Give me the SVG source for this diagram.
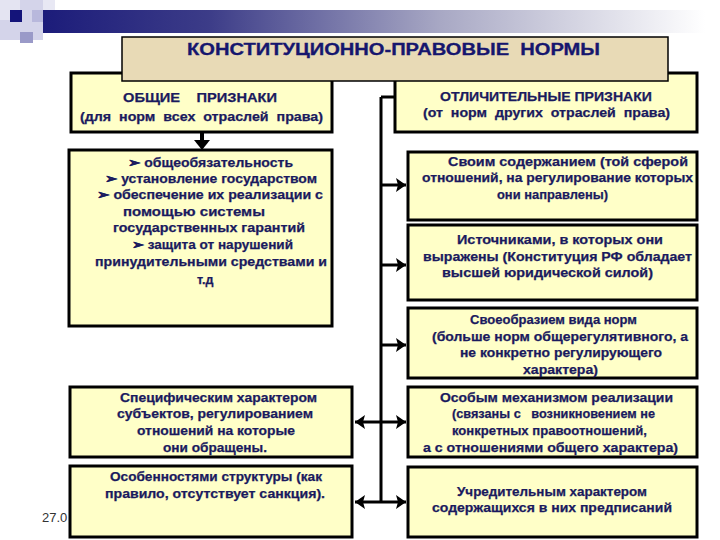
<svg xmlns="http://www.w3.org/2000/svg" width="720" height="540" viewBox="0 0 720 540">
<defs>
<linearGradient id="bar" x1="43" y1="0" x2="705" y2="0" gradientUnits="userSpaceOnUse">
<stop offset="0" stop-color="#1c1c7a"/>
<stop offset="0.25" stop-color="#3c3c88"/>
<stop offset="0.6" stop-color="#a8a8c4"/>
<stop offset="1" stop-color="#ffffff"/>
</linearGradient>
<marker id="ah" markerUnits="userSpaceOnUse" markerWidth="12" markerHeight="14" refX="10" refY="7" orient="auto">
<path d="M0,0 L10,7 L0,14 L2,7 Z" fill="#000"/>
</marker>
<style>
.box{fill:#FFFFC8;stroke:#000;stroke-width:3}
.t{font-family:"Liberation Sans",Arial,sans-serif;font-weight:bold;font-size:12.5px;fill:#1a1a5e;stroke:#1a1a5e;stroke-width:0.25;white-space:pre}
.c{fill:none;stroke:#000;stroke-width:3}
</style>
</defs>

<g id="decor">
<rect x="0" y="0" width="43" height="40" fill="#d4d4ea"/>
<rect x="0" y="0" width="20" height="20" fill="#e4e4f2"/>
<rect x="43" y="0" width="12" height="10" fill="#e8e8f4"/>
<rect x="32" y="10" width="22" height="12" fill="#b8b8dc"/>
<rect x="20" y="32" width="13" height="11" fill="#9a9ac8"/>
<rect x="43" y="10" width="662" height="23" fill="url(#bar)"/>
<rect x="10" y="10" width="12" height="12" fill="#14147a"/>
</g>

<text x="42" y="522" font-family="Liberation Sans,Arial,sans-serif" font-size="13" fill="#333">27.0</text>

<g id="connectors">
<path class="c" d="M381,97 H395 M381,97 V502"/>
<path class="c" d="M381,185 H406" marker-end="url(#ah)"/>
<path class="c" d="M381,265 H406" marker-end="url(#ah)"/>
<path class="c" d="M381,345 H406" marker-end="url(#ah)"/>
<path class="c" d="M381,422 H406" marker-end="url(#ah)"/>
<path class="c" d="M381,502 H406" marker-end="url(#ah)"/>
<path class="c" d="M381,422 H355" marker-end="url(#ah)"/>
<path class="c" d="M381,502 H355" marker-end="url(#ah)"/>
<path d="M202,132 V142" stroke="#000" stroke-width="4"/>
<path d="M194,140 L210,140 L202,150 Z" fill="#000"/>
</g>

<g id="general-header">
<rect class="box" x="71" y="73" width="261" height="59"/>
<text class="t" x="123" y="102" textLength="154" lengthAdjust="spacingAndGlyphs">ОБЩИЕ    ПРИЗНАКИ</text>
<text class="t" x="80" y="121" textLength="243" lengthAdjust="spacingAndGlyphs">(для  норм  всех  отраслей  права)</text>
</g>

<g id="distinct-header">
<rect class="box" x="395" y="73" width="302" height="59"/>
<text class="t" x="440" y="101" textLength="212" lengthAdjust="spacingAndGlyphs">ОТЛИЧИТЕЛЬНЫЕ ПРИЗНАКИ</text>
<text class="t" x="423" y="117" textLength="247" lengthAdjust="spacingAndGlyphs">(от  норм  других  отраслей  права)</text>
</g>

<g id="title">
<rect x="122" y="37" width="546" height="44" fill="#E8DAB6" stroke="#000" stroke-width="1.5"/>
<text x="187" y="55" font-family="Liberation Sans,Arial,sans-serif" font-weight="bold" font-size="16" fill="#16166e" stroke="#16166e" stroke-width="0.3" style="white-space:pre" textLength="413" lengthAdjust="spacingAndGlyphs">КОНСТИТУЦИОННО-ПРАВОВЫЕ  НОРМЫ</text>
</g>

<g id="general-list">
<rect class="box" x="69" y="150" width="263" height="176"/>
<text class="t" x="128" y="167" textLength="165" lengthAdjust="spacingAndGlyphs">➢ общеобязательность</text>
<text class="t" x="105" y="183" textLength="212" lengthAdjust="spacingAndGlyphs">➢ установление государством</text>
<text class="t" x="97" y="199" textLength="226" lengthAdjust="spacingAndGlyphs">➢ обеспечение их реализации с</text>
<text class="t" x="123" y="216" textLength="142" lengthAdjust="spacingAndGlyphs">помощью системы</text>
<text class="t" x="113" y="232" textLength="192" lengthAdjust="spacingAndGlyphs">государственных гарантий</text>
<text class="t" x="132" y="249" textLength="161" lengthAdjust="spacingAndGlyphs">➢ защита от нарушений</text>
<text class="t" x="95" y="266" textLength="232" lengthAdjust="spacingAndGlyphs">принудительными средствами и</text>
<text class="t" x="197" y="284">т.д</text>
</g>

<g id="content">
<rect class="box" x="408" y="152" width="289" height="68"/>
<text class="t" x="448" y="166" textLength="240" lengthAdjust="spacingAndGlyphs">Своим содержанием (той сферой</text>
<text class="t" x="422" y="182" textLength="271" lengthAdjust="spacingAndGlyphs">отношений, на регулирование которых</text>
<text class="t" x="497" y="199" textLength="111" lengthAdjust="spacingAndGlyphs">они направлены)</text>
</g>

<g id="sources">
<rect class="box" x="408" y="225" width="289" height="75"/>
<text class="t" x="457" y="244" textLength="206" lengthAdjust="spacingAndGlyphs">Источниками, в которых они</text>
<text class="t" x="423" y="261" textLength="269" lengthAdjust="spacingAndGlyphs">выражены (Конституция РФ обладает</text>
<text class="t" x="442" y="277" textLength="211" lengthAdjust="spacingAndGlyphs">высшей юридической силой)</text>
</g>

<g id="kind">
<rect class="box" x="408" y="308" width="289" height="70"/>
<text class="t" x="470" y="324" textLength="167" lengthAdjust="spacingAndGlyphs">Своеобразием вида норм</text>
<text class="t" x="432" y="341" textLength="256" lengthAdjust="spacingAndGlyphs">(больше норм общерегулятивного, а</text>
<text class="t" x="460" y="357" textLength="202" lengthAdjust="spacingAndGlyphs">не конкретно регулирующего</text>
<text class="t" x="523" y="374" textLength="75" lengthAdjust="spacingAndGlyphs">характера)</text>
</g>

<g id="mechanism">
<rect class="box" x="408" y="387" width="289" height="70"/>
<text class="t" x="440" y="402" textLength="233" lengthAdjust="spacingAndGlyphs">Особым механизмом реализации</text>
<text class="t" x="452" y="418" textLength="203" lengthAdjust="spacingAndGlyphs">(связаны с   возникновением не</text>
<text class="t" x="452" y="435" textLength="195" lengthAdjust="spacingAndGlyphs">конкретных правоотношений,</text>
<text class="t" x="423" y="452" textLength="255" lengthAdjust="spacingAndGlyphs">а с отношениями общего характера)</text>
</g>

<g id="constituent">
<rect class="box" x="408" y="467" width="289" height="70"/>
<text class="t" x="457" y="496" textLength="190" lengthAdjust="spacingAndGlyphs">Учредительным характером</text>
<text class="t" x="432" y="512" textLength="240" lengthAdjust="spacingAndGlyphs">содержащихся в них предписаний</text>
</g>

<g id="subjects">
<rect class="box" x="70" y="387" width="282" height="70"/>
<text class="t" x="120" y="402" textLength="197" lengthAdjust="spacingAndGlyphs">Специфическим характером</text>
<text class="t" x="117" y="418" textLength="196" lengthAdjust="spacingAndGlyphs">субъектов, регулированием</text>
<text class="t" x="137" y="435" textLength="158" lengthAdjust="spacingAndGlyphs">отношений на которые</text>
<text class="t" x="163" y="452" textLength="104" lengthAdjust="spacingAndGlyphs">они обращены.</text>
</g>

<g id="structure">
<rect class="box" x="70" y="466" width="282" height="71"/>
<text class="t" x="110" y="481" textLength="212" lengthAdjust="spacingAndGlyphs">Особенностями структуры (как</text>
<text class="t" x="105" y="498" textLength="220" lengthAdjust="spacingAndGlyphs">правило, отсутствует санкция).</text>
</g>
</svg>
